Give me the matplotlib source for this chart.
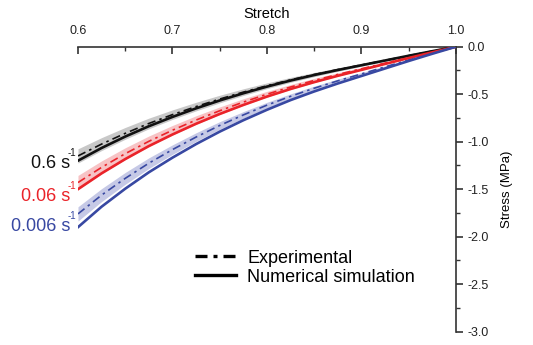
import numpy as np
import matplotlib
matplotlib.use('Agg')
import matplotlib.pyplot as plt
import matplotlib.transforms as mtransforms
from matplotlib.lines import Line2D

plt.rcParams['font.family'] = ['Liberation Sans', 'DejaVu Sans']

# stretch values shared by all curves
stretch = [0.6, 0.625, 0.65, 0.675, 0.7, 0.725, 0.75, 0.775, 0.8,
           0.825, 0.85, 0.875, 0.9, 0.925, 0.95, 0.975, 1.0]

# 0.6 /s
black_exp = [-1.15, -1.025, -0.912, -0.808, -0.715, -0.630, -0.551, -0.478, -0.411,
             -0.349, -0.293, -0.241, -0.192, -0.143, -0.094, -0.046, 0.0]
black_sim = [-1.20, -1.066, -0.946, -0.837, -0.739, -0.649, -0.566, -0.490, -0.420,
             -0.356, -0.298, -0.245, -0.195, -0.145, -0.095, -0.047, 0.0]
# 0.06 /s
red_exp = [-1.43, -1.27, -1.126, -0.996, -0.879, -0.772, -0.674, -0.583, -0.500,
           -0.424, -0.355, -0.292, -0.232, -0.173, -0.113, -0.056, 0.0]
red_sim = [-1.50, -1.333, -1.183, -1.046, -0.924, -0.811, -0.708, -0.613, -0.525,
           -0.445, -0.373, -0.306, -0.244, -0.181, -0.119, -0.059, 0.0]
# 0.006 /s
blue_exp = [-1.76, -1.562, -1.386, -1.226, -1.083, -0.951, -0.829, -0.718, -0.615,
            -0.522, -0.437, -0.359, -0.286, -0.212, -0.139, -0.069, 0.0]
blue_sim = [-1.90, -1.684, -1.495, -1.322, -1.168, -1.025, -0.894, -0.774, -0.664,
            -0.562, -0.471, -0.387, -0.308, -0.229, -0.150, -0.074, 0.0]

# scatter (half width of shaded band) of the experiments
band = [0.075, 0.068, 0.062, 0.056, 0.050, 0.045, 0.040, 0.035, 0.030,
        0.026, 0.022, 0.018, 0.014, 0.010, 0.007, 0.004, 0.0]

rate_labels = ['0.6 s', '0.06 s', '0.006 s']
label_y = [-1.23, -1.575, -1.895]

black = '#111111'
red = '#ea2329'
blue = '#3848a2'

fig = plt.figure(figsize=(5.33, 3.45), dpi=100)
ax = fig.add_axes([0.1463, 0.0386, 0.7092, 0.826])

x = np.array(stretch)
bd = np.array(band)
dashdot = (0, (5, 2.5, 1.5, 2.5))

groups = [
    (black_exp, black_sim, black, '#c8c8c8'),
    (red_exp, red_sim, red, '#f7c3c5'),
    (blue_exp, blue_sim, blue, '#c6c9e6'),
]
for exp, sim, col, bcol in groups:
    e = np.array(exp)
    ax.fill_between(x, e - bd, e + bd, color=bcol, lw=0, zorder=1)
    ax.plot(x, e, color=col, lw=1.2, ls=dashdot, zorder=2)
    ax.plot(x, sim, color=col, lw=1.9, zorder=3)

ax.set_xlim(0.6, 1.0)
ax.set_ylim(-3.0, 0.0)

ax.spines['left'].set_visible(False)
ax.spines['bottom'].set_visible(False)
for s in ['top', 'right']:
    ax.spines[s].set_linewidth(1.2)
    ax.spines[s].set_color('#333333')

ax.xaxis.tick_top()
ax.xaxis.set_label_position('top')
ax.yaxis.tick_right()
ax.yaxis.set_label_position('right')
ax.set_xticks([0.6, 0.7, 0.8, 0.9, 1.0])
ax.set_xticks([0.65, 0.75, 0.85, 0.95], minor=True)
ax.set_yticks([0.0, -0.5, -1.0, -1.5, -2.0, -2.5, -3.0])
ax.set_yticks([-0.25, -0.75, -1.25, -1.75, -2.25, -2.75], minor=True)
ax.xaxis.set_major_formatter(matplotlib.ticker.FormatStrFormatter('%.1f'))
ax.yaxis.set_major_formatter(matplotlib.ticker.FormatStrFormatter('%.1f'))
ax.tick_params(axis='x', which='major', direction='in', length=5, width=1.2,
               labelsize=9, pad=7, colors='#333333', labelcolor='#222222')
ax.tick_params(axis='x', which='minor', direction='in', length=3, width=1.0,
               colors='#333333')
ax.tick_params(axis='y', which='major', direction='out', length=5, width=1.2,
               labelsize=9, pad=3, colors='#333333', labelcolor='#222222')
ax.tick_params(axis='y', which='minor', direction='out', length=3, width=1.0,
               colors='#333333')
ax.set_xlabel('Stretch', fontsize=10.5, labelpad=5)
ax.set_ylabel('Stress (MPa)', fontsize=9.5, labelpad=9)

# strain-rate labels at the left end of the curves, with a small superscript
for lab, yy, col in zip(rate_labels, label_y, [black, red, blue]):
    ax.text(0.5978, yy + 0.06, '-1', color=col, fontsize=7, ha='right',
            va='bottom', clip_on=False)
    shift = mtransforms.offset_copy(ax.transData, fig=fig, x=-6, y=0,
                                    units='dots')
    ax.text(0.5978, yy, lab, color=col, fontsize=13, ha='right',
            va='center', clip_on=False, transform=shift)

handles = [Line2D([], [], color='black', lw=2.4, ls=(0, (3.6, 1.8, 1.2, 1.8))),
           Line2D([], [], color='black', lw=2.4)]
ax.legend(handles, ['Experimental', 'Numerical simulation'], loc='upper left',
          bbox_to_anchor=(0.2665, 0.345), frameon=False, fontsize=13,
          handlelength=2.3, handletextpad=0.6, labelspacing=0.12)

fig.savefig('out.png', dpi=100)
